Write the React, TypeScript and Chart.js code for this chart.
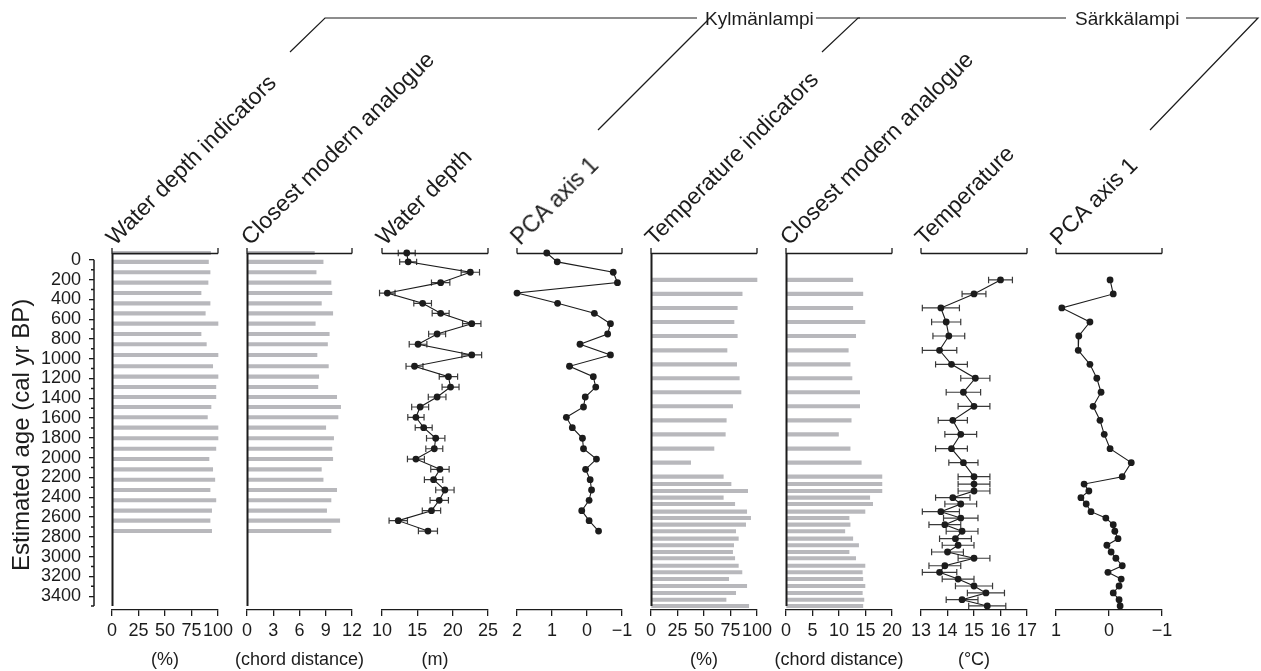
import React, { useEffect, useRef } from 'react';
import { Chart, registerables } from 'chart.js';

Chart.register(...registerables);

const FONT = '"Liberation Sans", Arial, Helvetica, sans-serif';
const INK = '#1c1c1c';
const BAR_COLOR = '#b8b8bc';

const W = 1261;
const H = 671;
const AGE_TOP_Y = 253;
const AXIS_Y = 610;
const AGE_MAX = 3540;
const AGE_END = 3500;

// ---- age axis ----
const ageTicks = [0, 200, 400, 600, 800, 1000, 1200, 1400, 1600, 1800, 2000, 2200, 2400, 2600, 2800, 3000, 3200, 3400];
const ageMinorTicks = [100, 300, 500, 700, 900, 1100, 1300, 1500, 1700, 1900, 2100, 2300, 2500, 2700, 2900, 3100, 3300, 3500];

// ---- Kylmänlampi ----
const kylmAges = [0, 88, 191, 294, 397, 499, 598, 701, 803, 905, 1011, 1123, 1226, 1329, 1428, 1527, 1629, 1732, 1837, 1941, 2043, 2145, 2248, 2350, 2452, 2555, 2654, 2757];
const kylmWaterIndicators = [93, 91, 92.5, 90.6, 84, 92.5, 88, 100, 84, 89, 100, 95, 100, 98, 98, 93.4, 90, 100, 100, 98, 91.5, 95, 97, 92.5, 98, 94, 92.5, 94];
const kylmChord = [7.7, 8.7, 7.9, 9.6, 9.7, 8.5, 9.8, 7.8, 9.4, 9.2, 8.0, 9.3, 8.2, 8.1, 10.25, 10.7, 10.4, 9.0, 9.9, 9.7, 9.8, 8.5, 8.7, 10.25, 9.6, 9.1, 10.6, 9.6];
const kylmWaterDepth = [13.5, 13.7, 22.5, 18.3, 10.75, 15.75, 18.3, 22.7, 17.8, 15.1, 22.7, 14.6, 19.4, 19.7, 17.8, 15.4, 14.8, 15.9, 17.6, 17.4, 14.8, 18.2, 17.3, 18.9, 18.1, 17.0, 12.3, 16.5];
const kylmWaterDepthErr = [1.2, 1.2, 1.3, 1.3, 1.1, 1.25, 1.2, 1.3, 1.2, 1.25, 1.4, 1.2, 1.3, 1.2, 1.25, 1.2, 1.15, 1.2, 1.3, 1.2, 1.2, 1.3, 1.3, 1.3, 1.3, 1.3, 1.3, 1.35];
const kylmPca = [1.15, 0.85, -0.75, -0.87, 2.0, 0.84, -0.21, -0.67, -0.59, 0.2, -0.67, 0.5, -0.18, -0.25, 0.05, 0.1, 0.59, 0.42, 0.13, 0.1, -0.27, 0.04, -0.09, -0.13, -0.06, 0.15, -0.06, -0.33];

// ---- Särkkälampi ----
const sarkAges = [267, 406, 545, 684, 823, 965, 1104, 1242, 1381, 1520, 1659, 1798, 1940, 2079, 2218, 2291, 2360, 2426, 2489, 2565, 2628, 2694, 2759, 2833, 2898, 2965, 3027, 3101, 3166, 3233, 3302, 3371, 3438, 3500];
const sarkTempIndicators = [100, 86, 81.4, 78.3, 81.4, 71.7, 80.8, 83.3, 84.9, 77, 71, 70.1, 59.4, 37.4, 68.2, 75.5, 91.2, 68.2, 79, 90.3, 94, 89.3, 79.9, 82.4, 78, 77, 79, 82.4, 85.8, 73.3, 90.3, 79.9, 70.8, 92.2];
const sarkChord = [12.6, 14.5, 12.6, 14.9, 13.15, 11.75, 12.1, 12.45, 13.9, 13.9, 12.3, 9.9, 12.1, 14.2, 18.1, 18.1, 18.1, 15.8, 16.35, 14.9, 11.9, 12.1, 11.1, 12.6, 13.7, 11.9, 13.15, 14.9, 14.4, 14.5, 14.9, 14.4, 14.7, 14.5];
const sarkTemp = [16.0, 15.0, 13.75, 13.95, 14.05, 13.7, 14.15, 15.05, 14.6, 15.0, 14.2, 14.5, 14.15, 14.6, 15.0, 15.0, 15.0, 14.2, 14.5, 13.75, 14.5, 13.9, 14.55, 14.3, 14.4, 14.0, 15.0, 13.9, 13.7, 14.4, 15.0, 15.45, 14.55, 15.5];
const sarkTempErr = [0.45, 0.45, 0.7, 0.55, 0.6, 0.65, 0.6, 0.55, 0.65, 0.6, 0.55, 0.6, 0.6, 0.55, 0.6, 0.6, 0.6, 0.65, 0.6, 0.7, 0.65, 0.6, 0.6, 0.6, 0.6, 0.6, 0.6, 0.6, 0.65, 0.6, 0.7, 0.7, 0.6, 0.7];
const sarkPca = [-0.02, -0.08, 0.89, 0.36, 0.57, 0.58, 0.36, 0.23, 0.15, 0.3, 0.17, 0.09, -0.02, -0.42, -0.25, 0.47, 0.38, 0.53, 0.43, 0.34, 0.06, -0.08, -0.11, -0.17, 0.04, -0.04, -0.13, -0.25, 0.02, -0.23, -0.19, -0.08, -0.19, -0.21];

// ---- x tick values ----
const pctTicks = [0, 25, 50, 75, 100];
const chord12Ticks = [0, 3, 6, 9, 12];
const depthTicks = [10, 15, 20, 25];
const pcaKTicks = [2, 1, 0, -1];
const chord20Ticks = [0, 5, 10, 15, 20];
const tempTicks = [13, 14, 15, 16, 17];
const pcaSTicks = [1, 0, -1];

type Panel = {
  title: string;
  unit: string;
  x0: number;
  x1: number;
  min: number;
  max: number;
  reverse: boolean;
  ticks: number[];
  kind: 'bar' | 'line';
  ages: number[];
  values: number[];
  errors?: number[];
};

const PANELS: Panel[] = [
  { title: 'Water depth indicators', unit: '(%)', x0: 112, x1: 218, min: 0, max: 100, reverse: false, ticks: pctTicks, kind: 'bar', ages: kylmAges, values: kylmWaterIndicators },
  { title: 'Closest modern analogue', unit: '(chord distance)', x0: 247, x1: 352, min: 0, max: 12, reverse: false, ticks: chord12Ticks, kind: 'bar', ages: kylmAges, values: kylmChord },
  { title: 'Water depth', unit: '(m)', x0: 382, x1: 488, min: 10, max: 25, reverse: false, ticks: depthTicks, kind: 'line', ages: kylmAges, values: kylmWaterDepth, errors: kylmWaterDepthErr },
  { title: 'PCA axis 1', unit: '', x0: 517, x1: 622, min: -1, max: 2, reverse: true, ticks: pcaKTicks, kind: 'line', ages: kylmAges, values: kylmPca },
  { title: 'Temperature indicators', unit: '(%)', x0: 651, x1: 757, min: 0, max: 100, reverse: false, ticks: pctTicks, kind: 'bar', ages: sarkAges, values: sarkTempIndicators },
  { title: 'Closest modern analogue', unit: '(chord distance)', x0: 786, x1: 892, min: 0, max: 20, reverse: false, ticks: chord20Ticks, kind: 'bar', ages: sarkAges, values: sarkChord },
  { title: 'Temperature', unit: '(°C)', x0: 921, x1: 1027, min: 13, max: 17, reverse: false, ticks: tempTicks, kind: 'line', ages: sarkAges, values: sarkTemp, errors: sarkTempErr },
  { title: 'PCA axis 1', unit: '', x0: 1056, x1: 1162, min: -1, max: 1, reverse: true, ticks: pcaSTicks, kind: 'line', ages: sarkAges, values: sarkPca },
];

const PAD_L = 45;
const PAD_R = 45;
const PAD_T = 12;
const CANVAS_TOP = AGE_TOP_Y - PAD_T;
const CANVAS_H = H - CANVAS_TOP;

const fmt = (v: number) => String(v).replace('-', '\u2212');

function makePanel(canvas: HTMLCanvasElement, p: Panel) {
  const isBar = p.kind === 'bar';
  const pts = p.ages.map((a, i) => ({ x: p.values[i], y: a }));
  const decor = {
    id: 'decor',
    beforeDatasetsDraw(chart: any) {
      if (!p.errors) return;
      const { ctx } = chart;
      const xs = chart.scales.x;
      const ys = chart.scales.y;
      ctx.save();
      ctx.strokeStyle = '#3a3a3a';
      ctx.lineWidth = 1.2;
      p.ages.forEach((a, i) => {
        const e = p.errors![i];
        const xa = xs.getPixelForValue(p.values[i] - e);
        const xb = xs.getPixelForValue(p.values[i] + e);
        const y = ys.getPixelForValue(a);
        ctx.beginPath();
        ctx.moveTo(xa, y);
        ctx.lineTo(xb, y);
        ctx.moveTo(xa, y - 3.2);
        ctx.lineTo(xa, y + 3.2);
        ctx.moveTo(xb, y - 3.2);
        ctx.lineTo(xb, y + 3.2);
        ctx.stroke();
      });
      ctx.restore();
    },
    afterDraw(chart: any) {
      const { ctx, chartArea: ca } = chart;
      const ys = chart.scales.y;
      ctx.save();
      ctx.strokeStyle = INK;
      ctx.lineWidth = 1.3;
      ctx.beginPath();
      ctx.moveTo(ca.left, ca.top + 0.5);
      ctx.lineTo(ca.right, ca.top + 0.5);
      ctx.moveTo(ca.left, ca.top + 0.5);
      ctx.lineTo(ca.left, ca.top - 5);
      ctx.moveTo(ca.right, ca.top + 0.5);
      ctx.lineTo(ca.right, ca.top - 5);
      ctx.stroke();
      if (isBar) {
        ctx.lineWidth = 2;
        ctx.beginPath();
        ctx.moveTo(ca.left + 0.5, ca.top);
        ctx.lineTo(ca.left + 0.5, ys.getPixelForValue(AGE_END));
        ctx.stroke();
      }
      ctx.restore();
    },
  };

  const dataset: any = isBar
    ? { data: pts, backgroundColor: BAR_COLOR, barThickness: 3.5, borderWidth: 0, clip: false }
    : {
        data: pts,
        showLine: true,
        borderColor: INK,
        borderWidth: 1.1,
        pointRadius: 3.4,
        pointBackgroundColor: INK,
        pointBorderWidth: 0,
        clip: false,
      };

  return new Chart(canvas, {
    type: isBar ? 'bar' : 'scatter',
    data: { datasets: [dataset] },
    plugins: [decor],
    options: {
      responsive: false,
      maintainAspectRatio: false,
      animation: false,
      devicePixelRatio: 1,
      indexAxis: isBar ? 'y' : 'x',
      layout: { padding: { left: PAD_L, right: PAD_R, top: PAD_T, bottom: 0 } },
      plugins: { legend: { display: false }, tooltip: { enabled: false } },
      events: [],
      scales: {
        x: {
          type: 'linear',
          position: 'bottom',
          min: p.min,
          max: p.max,
          reverse: p.reverse,
          offset: false,
          afterBuildTicks: (s: any) => {
            s.ticks = p.ticks.map((v) => ({ value: v }));
          },
          afterFit: (s: any) => {
            s.height = H - AXIS_Y;
          },
          grid: { display: true, offset: false, drawOnChartArea: false, drawTicks: true, tickLength: 6, color: INK, lineWidth: 1.3 },
          border: { display: true, color: INK, width: 1.3 },
          ticks: {
            font: { family: FONT, size: 18 },
            color: INK,
            padding: 4,
            maxRotation: 0,
            autoSkip: false,
            callback: (v: any) => fmt(Number(v)),
          },
          title: { display: false },
        },
        y: { type: 'linear', display: false, min: 0, max: AGE_MAX, reverse: true, offset: false, grid: { offset: false } },
      },
    } as any,
  });
}

function makeAgeAxis(canvas: HTMLCanvasElement) {
  const axisLine = {
    id: 'ageLine',
    afterDraw(chart: any) {
      const { ctx, chartArea: ca } = chart;
      const ys = chart.scales.y;
      ctx.save();
      ctx.strokeStyle = INK;
      ctx.lineWidth = 1.5;
      ctx.beginPath();
      ctx.moveTo(ca.left, ys.getPixelForValue(0));
      ctx.lineTo(ca.left, ys.getPixelForValue(AGE_END));
      ageMinorTicks.forEach((v) => {
        const y = ys.getPixelForValue(v);
        ctx.moveTo(ca.left, y);
        ctx.lineTo(ca.left - 3, y);
      });
      ctx.stroke();
      ctx.restore();
    },
  };
  return new Chart(canvas, {
    type: 'scatter',
    data: { datasets: [] },
    plugins: [axisLine],
    options: {
      responsive: false,
      maintainAspectRatio: false,
      animation: false,
      devicePixelRatio: 1,
      events: [],
      layout: { padding: { left: 0, right: 4, top: PAD_T, bottom: H - AXIS_Y } },
      plugins: { legend: { display: false }, tooltip: { enabled: false } },
      scales: {
        x: { type: 'linear', display: false, min: 0, max: 1 },
        y: {
          type: 'linear',
          position: 'left',
          min: 0,
          max: AGE_MAX,
          reverse: true,
          afterBuildTicks: (s: any) => {
            s.ticks = ageTicks.map((v) => ({ value: v }));
          },
          afterFit: (s: any) => {
            s.width = 94;
          },
          grid: { display: true, drawOnChartArea: false, drawTicks: true, tickLength: 5, color: INK, lineWidth: 1.3 },
          border: { display: false },
          ticks: {
            font: { family: FONT, size: 18 },
            color: INK,
            padding: 8,
            autoSkip: false,
            callback: (v: any) => String(v),
          },
          title: {
            display: true,
            text: 'Estimated age (cal yr BP)',
            font: { family: FONT, size: 24 },
            color: INK,
            padding: { top: 8, bottom: 0 },
          },
        },
      },
    } as any,
  });
}

type Seg = number[][];
const brackets: Seg[] = [
  [[290, 52], [325, 18], [697, 18]],
  [[598, 130], [708, 20]],
  [[816, 18], [860, 18]],
  [[822, 52], [858, 18], [1066, 18]],
  [[1186, 18], [1258, 18], [1150, 130]],
];

export default function App() {
  const ageRef = useRef<HTMLCanvasElement | null>(null);
  const refs = useRef<(HTMLCanvasElement | null)[]>([]);

  useEffect(() => {
    const charts: Chart[] = [];
    if (ageRef.current) charts.push(makeAgeAxis(ageRef.current));
    PANELS.forEach((p, i) => {
      const c = refs.current[i];
      if (c) charts.push(makePanel(c, p));
    });
    return () => charts.forEach((c) => c.destroy());
  }, []);

  return (
    <div
      style={{
        position: 'absolute',
        left: 0,
        top: 0,
        width: W,
        height: H,
        background: '#fff',
        fontFamily: FONT,
        color: INK,
        overflow: 'hidden',
      }}
    >
      <canvas
        ref={ageRef}
        width={100}
        height={CANVAS_H}
        style={{ position: 'absolute', left: 0, top: CANVAS_TOP, width: 100, height: CANVAS_H }}
      />
      {PANELS.map((p, i) => {
        const w = p.x1 - p.x0 + PAD_L + PAD_R;
        return (
          <canvas
            key={i}
            ref={(el) => {
              refs.current[i] = el;
            }}
            width={w}
            height={CANVAS_H}
            style={{ position: 'absolute', left: p.x0 - PAD_L, top: CANVAS_TOP, width: w, height: CANVAS_H }}
          />
        );
      })}
      {PANELS.map((p, i) =>
        p.unit ? (
          <div
            key={'u' + i}
            style={{
              position: 'absolute',
              left: (p.x0 + p.x1) / 2 - 100,
              width: 200,
              top: 648,
              height: 22,
              lineHeight: '22px',
              fontSize: 18,
              textAlign: 'center',
              whiteSpace: 'nowrap',
            }}
          >
            {p.unit}
          </div>
        ) : null
      )}
      {PANELS.map((p, i) => (
        <div
          key={'t' + i}
          style={{
            position: 'absolute',
            left: p.x0 + 6,
            top: 249 - 23,
            height: 23,
            lineHeight: '23px',
            fontSize: 23,
            whiteSpace: 'nowrap',
            transform: 'rotate(-45deg)',
            transformOrigin: '0 100%',
          }}
        >
          {p.title}
        </div>
      ))}
      <svg width={W} height={H} style={{ position: 'absolute', left: 0, top: 0, pointerEvents: 'none' }}>
        {brackets.map((s, i) => (
          <polyline key={i} points={s.map((q) => q.join(',')).join(' ')} fill="none" stroke={INK} strokeWidth={1.2} />
        ))}
      </svg>
      <div style={{ position: 'absolute', left: 705, top: 8, fontSize: 19, lineHeight: '22px', whiteSpace: 'nowrap' }}>Kylmänlampi</div>
      <div style={{ position: 'absolute', left: 1075, top: 8, fontSize: 19, lineHeight: '22px', whiteSpace: 'nowrap' }}>Särkkälampi</div>
    </div>
  );
}
